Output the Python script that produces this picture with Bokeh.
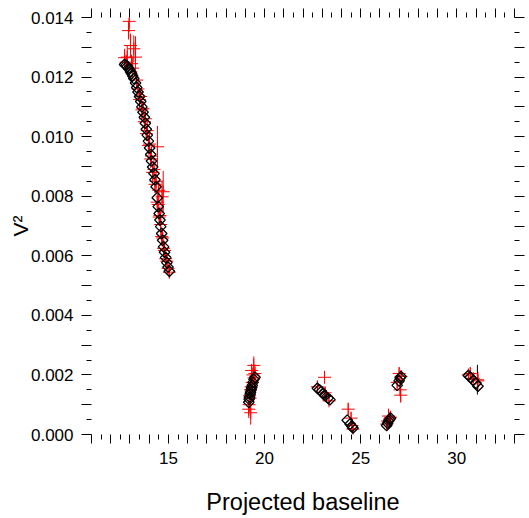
import numpy as np
from bokeh.plotting import figure
from bokeh.models import Range1d, FixedTicker, LinearAxis
from bokeh.embed import file_html
from bokeh.resources import INLINE

# ---------------- data ----------------
# observed squared visibilities (red crosses, red error bars)
obs_baseline = [12.72, 12.80, 12.86, 12.93, 12.96, 13.03, 13.08, 13.14, 13.20, 13.29,
                13.35, 13.42, 13.50, 13.56, 13.62, 13.68, 13.75, 13.80, 13.85, 13.90,
                13.96, 14.02, 14.08, 14.12, 14.18, 14.25, 14.30, 14.36, 14.43, 14.42,
                14.47, 14.50, 14.52, 14.56, 14.60, 14.67, 14.73, 14.65, 14.70, 14.75,
                14.80, 14.86, 14.92, 14.98, 15.05,
                19.18, 19.20, 19.22, 19.25, 19.27, 19.28, 19.30, 19.33, 19.36, 19.40,
                19.44, 19.45, 19.50,
                22.75, 23.12, 23.15, 23.22, 23.35,
                24.35, 24.50, 24.55, 24.60,
                26.35, 26.40, 26.45, 26.50, 26.55,
                26.90, 27.00, 27.05, 27.08, 27.10,
                30.60, 30.70, 30.85, 31.10]
obs_v2 = [0.01265, 0.01250, 0.01267, 0.01356, 0.01387, 0.01306, 0.01245, 0.01230, 0.01295, 0.01267,
          0.01190, 0.01160, 0.01125, 0.01135, 0.01090, 0.01095, 0.01050, 0.01060, 0.01010, 0.01020,
          0.00970, 0.00975, 0.00925, 0.00935, 0.00880, 0.00890, 0.00840, 0.00850, 0.00966, 0.00780,
          0.00772, 0.00820, 0.00730, 0.00735, 0.00705, 0.00798, 0.00815, 0.00665, 0.00660, 0.00625,
          0.00618, 0.00590, 0.00582, 0.00558, 0.00545,
          0.00085, 0.00100, 0.00130, 0.00122, 0.00150, 0.00073, 0.00160, 0.00215, 0.00175, 0.00200,
          0.00232, 0.00190, 0.00205,
          0.00160, 0.00192, 0.00140, 0.00128, 0.00113,
          0.00085, 0.00055, 0.00030, 0.00018,
          0.00035, 0.00045, 0.00062, 0.00052, 0.00058,
          0.00175, 0.00205, 0.00150, 0.00132, 0.00195,
          0.00200, 0.00205, 0.00188, 0.00180]
obs_err = [0.00030, 0.00025, 0.00040, 0.00030, 0.00035, 0.00040, 0.00030, 0.00035, 0.00045, 0.00070,
           0.00030, 0.00025, 0.00030, 0.00025, 0.00030, 0.00025, 0.00030, 0.00030, 0.00025, 0.00030,
           0.00030, 0.00035, 0.00030, 0.00030, 0.00030, 0.00035, 0.00030, 0.00040, 0.00070, 0.00030,
           0.00035, 0.00030, 0.00030, 0.00030, 0.00050, 0.00055, 0.00070, 0.00030, 0.00030, 0.00030,
           0.00025, 0.00025, 0.00025, 0.00020, 0.00020,
           0.00030, 0.00025, 0.00030, 0.00030, 0.00030, 0.00040, 0.00035, 0.00020, 0.00030, 0.00025,
           0.00030, 0.00030, 0.00030,
           0.00020, 0.00020, 0.00020, 0.00020, 0.00015,
           0.00020, 0.00020, 0.00020, 0.00015,
           0.00015, 0.00020, 0.00025, 0.00020, 0.00020,
           0.00020, 0.00020, 0.00020, 0.00025, 0.00020,
           0.00015, 0.00020, 0.00015, 0.00030]

# observations whose error bars are drawn in black
obs2_baseline = [31.07]
obs2_v2 = [0.00184]
obs2_err = [0.00050]

# model squared visibilities (open black diamonds)
model_baseline = [12.72, 12.80, 12.86, 12.93, 12.96, 13.03, 13.08, 13.14, 13.20, 13.29,
                  13.35, 13.42, 13.50, 13.56, 13.62, 13.68, 13.75, 13.80, 13.85, 13.90,
                  13.96, 14.02, 14.08, 14.12, 14.18, 14.25, 14.30, 14.36, 14.42, 14.47,
                  14.52, 14.56, 14.60, 14.65, 14.70, 14.75, 14.80, 14.86, 14.92, 14.98, 15.05,
                  19.18, 19.20, 19.22, 19.25, 19.27, 19.30, 19.33, 19.36, 19.40, 19.45, 19.50,
                  22.75, 22.85, 22.95, 23.05, 23.15, 23.30, 23.40,
                  24.30, 24.45, 24.55, 24.60,
                  26.35, 26.40, 26.45, 26.50, 26.55,
                  26.90, 27.00, 27.05, 27.10,
                  30.60, 30.70, 30.85, 31.00, 31.10]
model_v2 = [0.01242, 0.01240, 0.01236, 0.01230, 0.01226, 0.01218, 0.01212, 0.01204, 0.01195, 0.01180,
            0.01165, 0.01150, 0.01135, 0.01118, 0.01100, 0.01082, 0.01065, 0.01045, 0.01025, 0.01005,
            0.00985, 0.00962, 0.00940, 0.00918, 0.00898, 0.00876, 0.00855, 0.00832, 0.00795, 0.00765,
            0.00742, 0.00720, 0.00698, 0.00675, 0.00652, 0.00630, 0.00612, 0.00594, 0.00577, 0.00562, 0.00548,
            0.00108, 0.00118, 0.00125, 0.00135, 0.00142, 0.00150, 0.00158, 0.00165, 0.00175, 0.00185, 0.00192,
            0.00155, 0.00150, 0.00144, 0.00137, 0.00130, 0.00122, 0.00117,
            0.00048, 0.00035, 0.00027, 0.00022,
            0.00030, 0.00038, 0.00045, 0.00050, 0.00055,
            0.00165, 0.00180, 0.00190, 0.00195,
            0.00198, 0.00192, 0.00182, 0.00172, 0.00162]

# axes
x_title = "Projected baseline"
y_title = "V\u00b2"
x_major_ticks = list(range(11, 34))
x_minor_ticks = [v + 0.5 for v in range(11, 33)]
x_tick_labels = {15: "15", 20: "20", 25: "25", 30: "30"}
y_major_ticks = [round(0.001 * i, 3) for i in range(15)]
y_minor_ticks = [round(0.0005 + 0.001 * i, 4) for i in range(14)]
y_tick_labels = {0.0: "0.000", 0.002: "0.002", 0.004: "0.004", 0.006: "0.006",
                 0.008: "0.008", 0.010: "0.010", 0.012: "0.012", 0.014: "0.014"}

FONT = "Liberation Sans"

p = figure(width=528, height=517, x_range=Range1d(11, 33), y_range=Range1d(0, 0.014),
           output_backend="svg", toolbar_location=None,
           min_border_left=91, min_border_right=14, min_border_top=17, min_border_bottom=82)
p.outline_line_color = None
p.grid.visible = False
p.background_fill_color = "white"
p.border_fill_color = "white"


def style_axis(ax, majors, minors, major_out, minor_out, labels):
    ax.ticker = FixedTicker(ticks=majors, minor_ticks=minors)
    ax.axis_line_color = None
    ax.major_tick_in = 0
    ax.minor_tick_in = 0
    ax.major_tick_out = major_out
    ax.minor_tick_out = minor_out
    ax.major_tick_line_color = "black"
    ax.minor_tick_line_color = "black"
    if labels is None:
        ax.major_label_overrides = {t: "" for t in majors}
        ax.major_label_text_font_size = "1px"
        ax.major_label_standoff = 0
    else:
        ax.major_label_overrides = {t: labels.get(t, "") for t in majors}
        ax.major_label_text_font = FONT
        ax.major_label_text_font_size = "17px"
        ax.major_label_text_color = "black"
        ax.major_label_standoff = 8


xa = p.xaxis[0]
ya = p.yaxis[0]
style_axis(xa, x_major_ticks, x_minor_ticks, 9, 5, x_tick_labels)
style_axis(ya, y_major_ticks, y_minor_ticks, 10, 5, y_tick_labels)
xa.axis_label = x_title
xa.axis_label_text_font = FONT
xa.axis_label_text_font_size = "23.5px"
xa.axis_label_text_font_style = "normal"
xa.axis_label_text_color = "black"
xa.axis_label_standoff = 22
ya.axis_label = y_title
ya.axis_label_text_font = FONT
ya.axis_label_text_font_size = "21px"
ya.axis_label_text_font_style = "normal"
ya.axis_label_text_color = "black"
ya.axis_label_standoff = -4

top = LinearAxis()
style_axis(top, x_major_ticks, x_minor_ticks, 9, 5, None)
p.add_layout(top, "above")
right = LinearAxis()
style_axis(right, y_major_ticks, y_minor_ticks, 10, 5, None)
p.add_layout(right, "right")

# ---------------- glyphs ----------------
ox = np.array(obs_baseline)
oy = np.array(obs_v2)
oe = np.array(obs_err)
p.segment(x0=ox, y0=oy - oe, x1=ox, y1=oy + oe, line_color="red", line_width=1)

o2x = np.array(obs2_baseline)
o2y = np.array(obs2_v2)
o2e = np.array(obs2_err)
p.segment(x0=o2x, y0=o2y - o2e, x1=o2x, y1=o2y + o2e, line_color="black", line_width=1)

p.scatter(x=np.concatenate([ox, o2x]), y=np.concatenate([oy, o2y]), marker="cross",
          size=13, line_color="red", line_width=1)

p.scatter(x=model_baseline, y=model_v2, marker="square", angle=np.pi / 4, size=7.5,
          fill_color=None, line_color="black", line_width=1.3)

open("out.html", "w").write(file_html(p, INLINE))
